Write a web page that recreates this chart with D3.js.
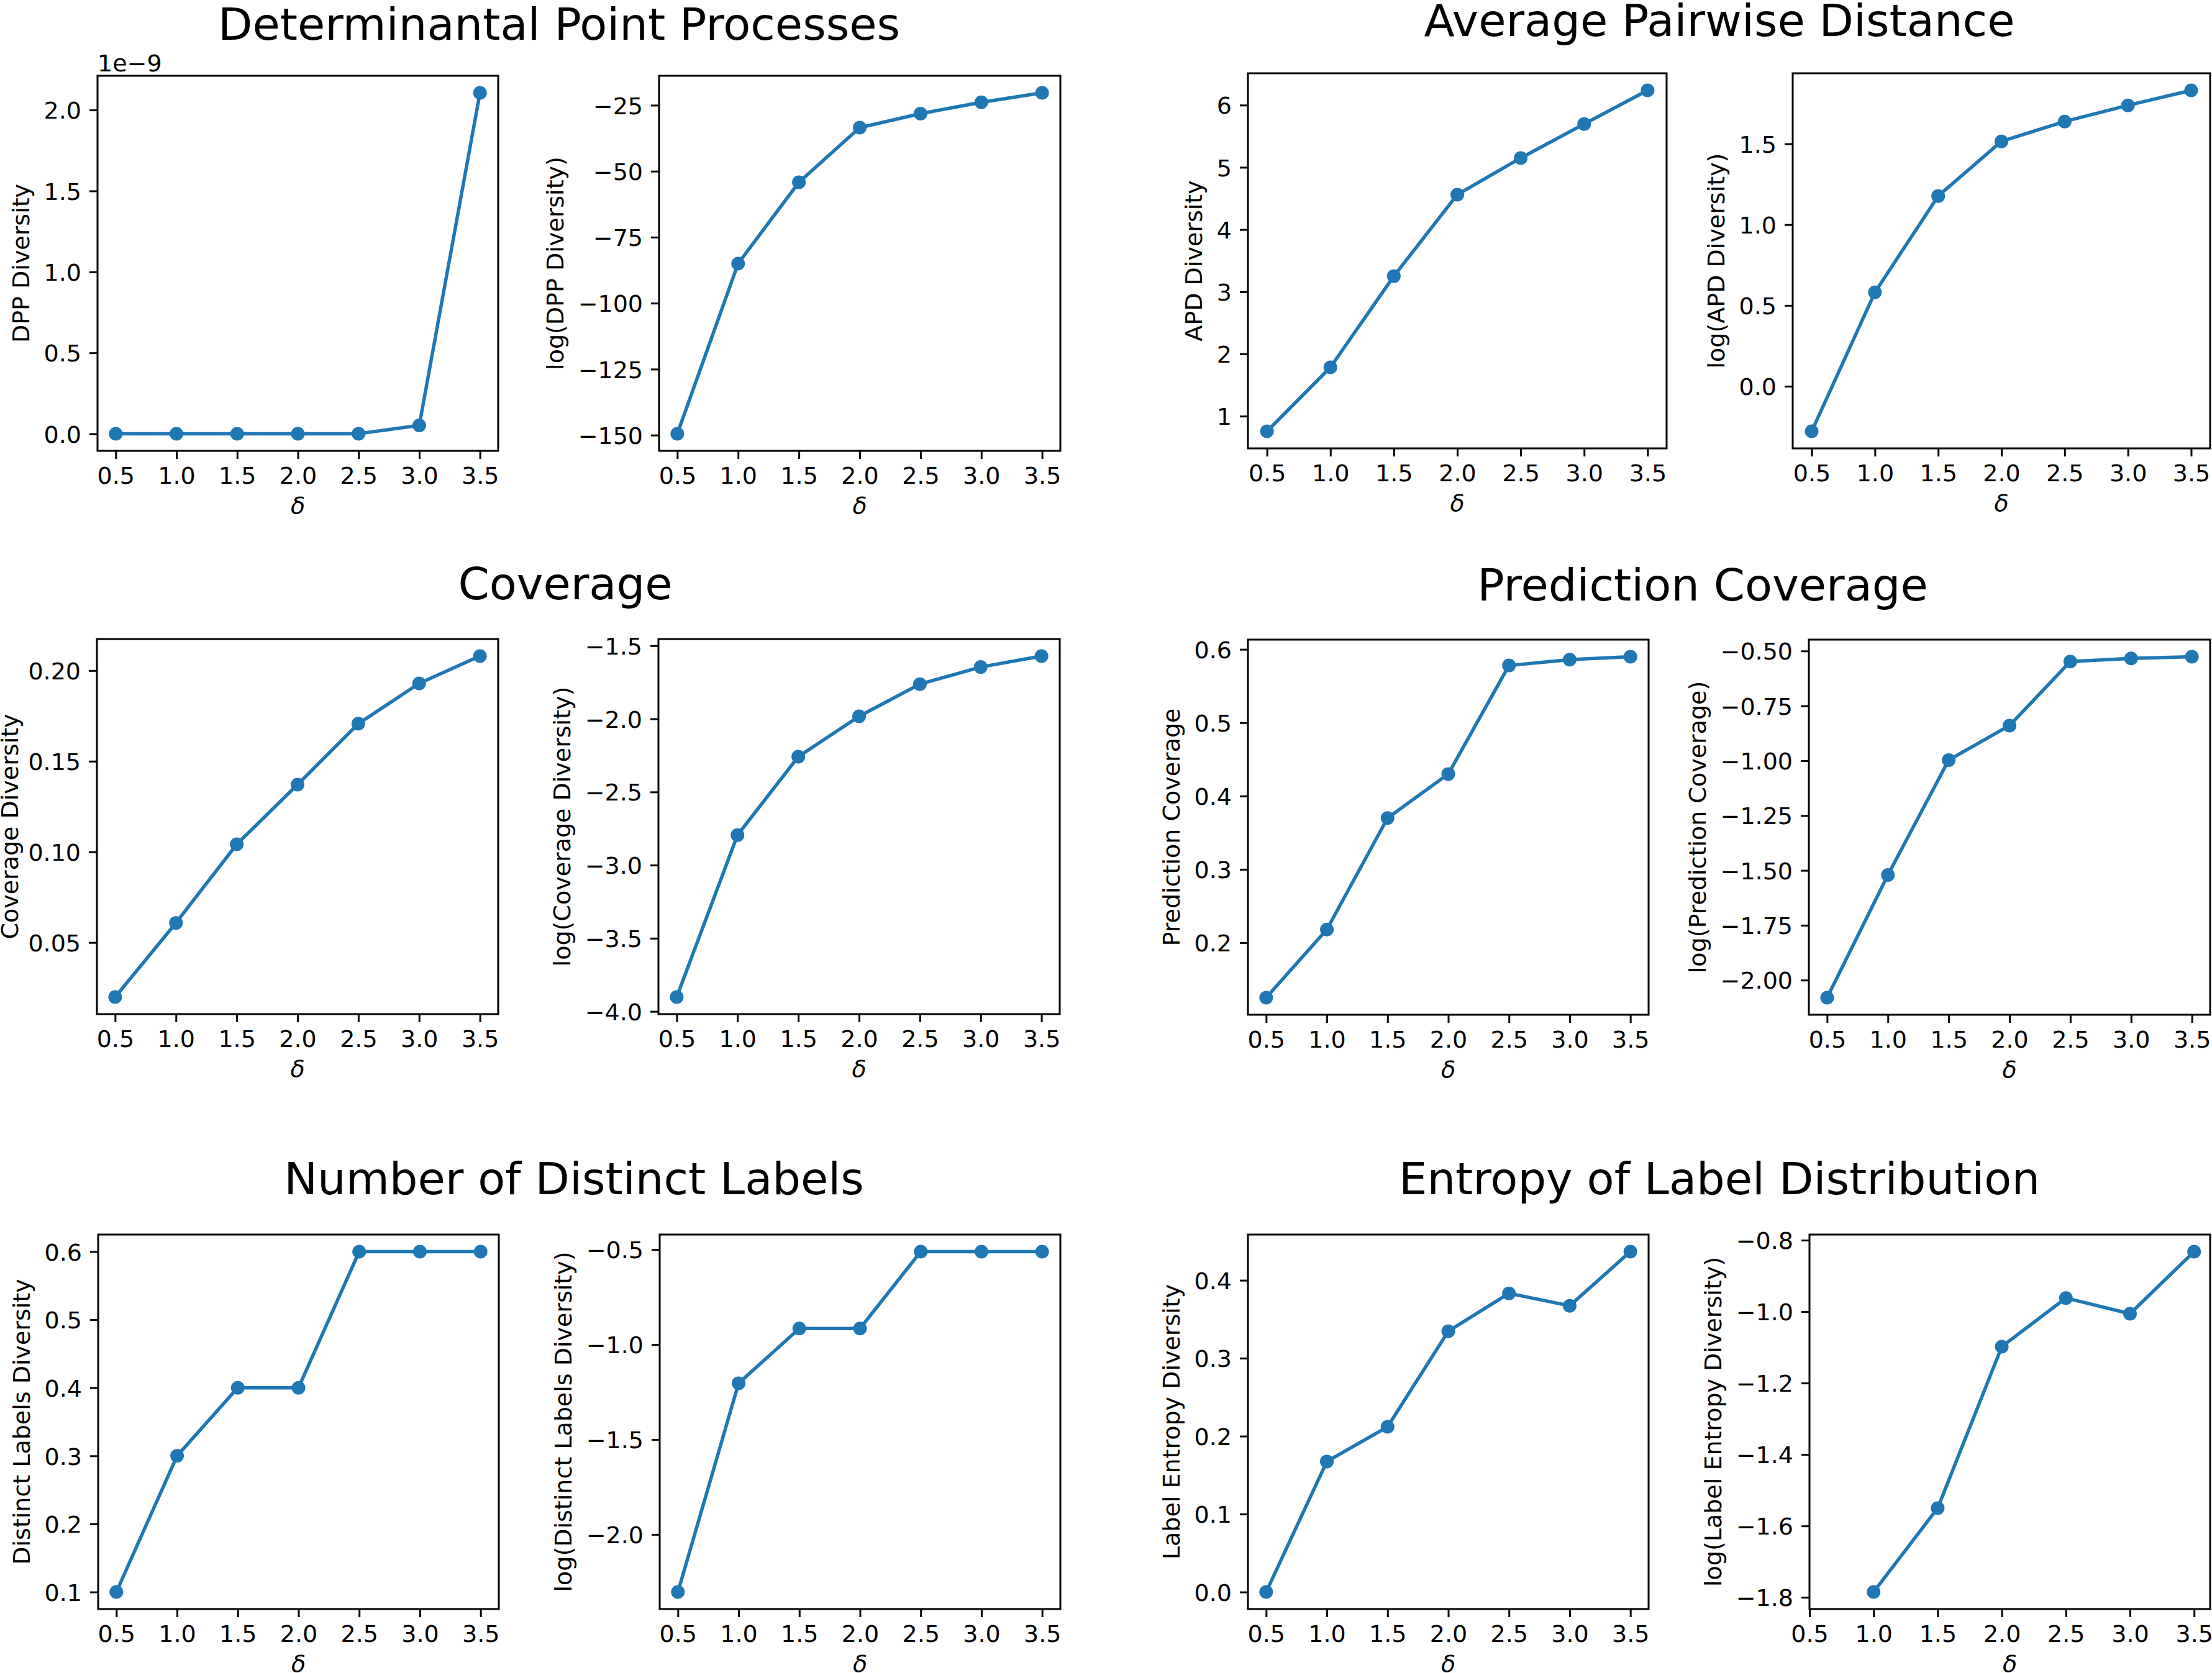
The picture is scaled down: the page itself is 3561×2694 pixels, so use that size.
<!DOCTYPE html>
<html>
<head>
<meta charset="utf-8">
<script src="https://cdn.jsdelivr.net/npm/d3@7"></script>
<style>
  html, body { margin: 0; padding: 0; background: #ffffff; }
  svg { display: block; }
  text { font-family: "DejaVu Sans", sans-serif; fill: #000; }
</style>
</head>
<body>
<script>
// ---------------- DATA ----------------
const deltas = [0.5, 1.0, 1.5, 2.0, 2.5, 3.0, 3.5];
const xTicks = [0.5, 1.0, 1.5, 2.0, 2.5, 3.0, 3.5];

const dppDiversity = [1.6e-65, 1.2e-37, 2.9e-24, 2.8e-15, 5.6e-13, 5.2e-11, 2.106e-9];
const logDppDiversity = [-149.5, -85.0, -54.2, -33.5, -28.2, -23.9, -20.3];
const apdDiversity = [0.756, 1.785, 3.251, 4.561, 5.150, 5.697, 6.238];
const logApdDiversity = [-0.279, 0.581, 1.177, 1.515, 1.638, 1.738, 1.831];
const coverageDiversity = [0.0199, 0.0608, 0.1042, 0.1371, 0.1707, 0.1929, 0.2080];
const logCoverageDiversity = [-3.902, -2.795, -2.259, -1.983, -1.763, -1.646, -1.571];
const predictionCoverage = [0.125, 0.218, 0.370, 0.430, 0.578, 0.586, 0.590];
const logPredictionCoverage = [-2.080, -1.521, -0.997, -0.840, -0.548, -0.534, -0.526];
const distinctLabelsDiversity = [0.1, 0.3, 0.4, 0.4, 0.6, 0.6, 0.6];
const logDistinctLabelsDiversity = [-2.303, -1.204, -0.916, -0.916, -0.511, -0.511, -0.511];
const labelEntropyDiversity = [0.0, 0.1675, 0.212, 0.3346, 0.3832, 0.3673, 0.4368];
const logLabelEntropyDiversity = [null, -1.785, -1.550, -1.098, -0.962, -1.006, -0.832];

const groupTitles = ["Determinantal Point Processes", "Average Pairwise Distance",
                     "Coverage", "Prediction Coverage",
                     "Number of Distinct Labels", "Entropy of Label Distribution"];

const yLabels = ["DPP Diversity", "log(DPP Diversity)", "APD Diversity", "log(APD Diversity)",
                 "Coverage Diversity", "log(Coverage Diversity)", "Prediction Coverage", "log(Prediction Coverage)",
                 "Distinct Labels Diversity", "log(Distinct Labels Diversity)", "Label Entropy Diversity", "log(Label Entropy Diversity)"];

const yTickValues = [
  [0.0, 0.5, 1.0, 1.5, 2.0],
  [-150, -125, -100, -75, -50, -25],
  [1, 2, 3, 4, 5, 6],
  [0.0, 0.5, 1.0, 1.5],
  [0.05, 0.10, 0.15, 0.20],
  [-4.0, -3.5, -3.0, -2.5, -2.0, -1.5],
  [0.2, 0.3, 0.4, 0.5, 0.6],
  [-2.00, -1.75, -1.50, -1.25, -1.00, -0.75, -0.50],
  [0.1, 0.2, 0.3, 0.4, 0.5, 0.6],
  [-2.0, -1.5, -1.0, -0.5],
  [0.0, 0.1, 0.2, 0.3, 0.4],
  [-1.8, -1.6, -1.4, -1.2, -1.0, -0.8]
];
const yTickFormats = [".1f", ".0f", ".0f", ".1f", ".2f", ".1f", ".1f", ".2f", ".1f", ".1f", ".1f", ".1f"];
const seriesList = [dppDiversity, logDppDiversity, apdDiversity, logApdDiversity,
                    coverageDiversity, logCoverageDiversity, predictionCoverage, logPredictionCoverage,
                    distinctLabelsDiversity, logDistinctLabelsDiversity, labelEntropyDiversity, logLabelEntropyDiversity];
const offsetExponent = [-9, 0, 0, 0, 0, 0, 0, 0, 0, 0, 0, 0];

// ---------------- LAYOUT ----------------
const W = 3561, H = 2694;
const boxes = [
  [157, 122, 802, 726], [1061, 122, 1707, 726], [2009, 118, 2683, 722], [2886, 118, 3558, 722],
  [156, 1029, 802, 1633], [1060, 1029, 1706, 1633], [2009, 1030, 2654, 1634], [2912, 1030, 3558, 1634],
  [158, 1988, 803, 2591], [1062, 1988, 1707, 2591], [2009, 1988, 2654, 2591], [2913, 1988, 3558, 2591]
];
const titlePos = [[900, 64], [2768, 58], [910, 965], [2741, 967], [924, 1923], [2768, 1923]];

const C = "#1f77b4";
const FS = 38, TITLE_FS = 72, TICK = 13, PAD = 13, LW = 5.5, R = 11;

const svg = d3.select("body").append("svg").attr("width", W).attr("height", H);
svg.append("rect").attr("width", W).attr("height", H).attr("fill", "#fff");

groupTitles.forEach((t, i) => {
  svg.append("text").attr("x", titlePos[i][0]).attr("y", titlePos[i][1])
    .attr("text-anchor", "middle").attr("font-size", TITLE_FS).text(t);
});

function panel(i) {
  const [x0, y0, x1, y1] = boxes[i];
  const vals = seriesList[i];
  const pts = deltas.map((d, k) => [d, vals[k]]).filter(p => p[1] !== null && isFinite(p[1]));
  const xs = pts.map(p => p[0]), ys = pts.map(p => p[1]);
  const xmin = d3.min(xs), xmax = d3.max(xs), xr = xmax - xmin;
  const xd = [Math.min(xmin - 0.05 * xr, d3.min(deltas)), xmax + 0.05 * xr];
  const ymin = d3.min(ys), ymax = d3.max(ys), yr = ymax - ymin;
  const yd = [ymin - 0.05 * yr, ymax + 0.05 * yr];
  const x = d3.scaleLinear().domain(xd).range([x0, x1]);
  const y = d3.scaleLinear().domain(yd).range([y1, y0]);
  const scaleF = Math.pow(10, offsetExponent[i]);

  const g = svg.append("g");

  const line = d3.line().x(p => x(p[0])).y(p => y(p[1]));
  g.append("path").datum(pts).attr("d", line).attr("fill", "none")
    .attr("stroke", C).attr("stroke-width", LW).attr("stroke-linejoin", "round");
  g.selectAll("circle.pt").data(pts).join("circle").attr("class", "pt")
    .attr("cx", p => x(p[0])).attr("cy", p => y(p[1])).attr("r", R).attr("fill", C);

  const xa = g.append("g").attr("transform", `translate(0,${y1})`)
    .call(d3.axisBottom(x).tickValues(xTicks).tickFormat(d3.format(".1f")).tickSize(TICK).tickSizeOuter(0));
  xa.select(".domain").remove();
  xa.selectAll(".tick line").attr("stroke", "#000").attr("stroke-width", 3);
  xa.selectAll(".tick text").attr("y", 53).attr("dy", null)
    .attr("font-size", FS).attr("font-family", "DejaVu Sans").attr("fill", "#000");

  const fmt = d3.format(yTickFormats[i]);
  const ya = g.append("g").attr("transform", `translate(${x0},0)`)
    .call(d3.axisLeft(y).tickValues(yTickValues[i].map(v => v * scaleF))
      .tickFormat(v => fmt(v / scaleF)).tickSize(TICK).tickSizeOuter(0));
  ya.select(".domain").remove();
  ya.selectAll(".tick line").attr("stroke", "#000").attr("stroke-width", 3);
  ya.selectAll(".tick text").attr("x", -(TICK + PAD)).attr("dy", "0.36em")
    .attr("font-size", FS).attr("font-family", "DejaVu Sans").attr("fill", "#000");

  g.append("rect").attr("x", x0).attr("y", y0).attr("width", x1 - x0).attr("height", y1 - y0)
    .attr("fill", "none").attr("stroke", "#000").attr("stroke-width", 3);

  g.append("text").attr("x", (x0 + x1) / 2).attr("y", y1 + 101).attr("text-anchor", "middle")
    .attr("font-size", FS).attr("font-style", "italic").text("δ");

  const bb = ya.node().getBBox();
  const lx = Math.max(x0 + bb.x - 15 - 0.236 * FS, 0.76 * FS);
  g.append("text").attr("transform", `translate(${lx},${(y0 + y1) / 2}) rotate(-90)`)
    .attr("text-anchor", "middle").attr("font-size", FS).text(yLabels[i]);

  if (offsetExponent[i] !== 0) {
    g.append("text").attr("x", x0).attr("y", y0 - 7).attr("font-size", FS)
      .text("1e" + d3.format("")(offsetExponent[i]));
  }
}

for (let i = 0; i < 12; i++) panel(i);
</script>
</body>
</html>
